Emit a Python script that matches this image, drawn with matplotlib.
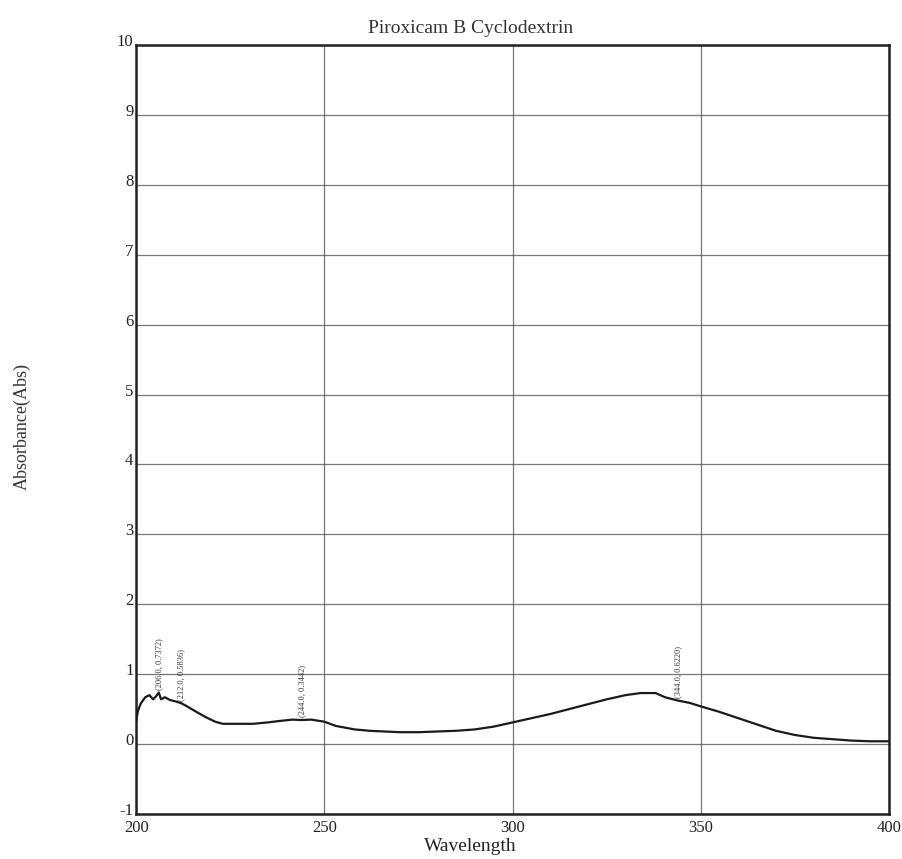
import matplotlib

matplotlib.use("Agg")

import matplotlib.pyplot as plt
import matplotlib.transforms as mtransforms

plt.rcParams["font.family"] = ["Liberation Serif", "DejaVu Serif"]

# UV spectrum, wavelength (nm) vs absorbance
wavelength = [
    200.0, 200.5, 201.2, 202.4, 203.5, 204.5, 205.2, 206.0, 206.6, 207.6,
    209.0, 210.5, 212.0, 213.5, 215.7, 218.3, 221.0, 223.0, 227.0, 231.0,
    235.0, 238.0, 241.5, 244.0, 246.5, 250.0, 253.0, 258.0, 262.0, 266.0,
    270.0, 275.0, 280.0, 285.0, 290.0, 295.0, 300.0, 305.0, 310.0, 315.0,
    320.0, 325.0, 330.0, 334.0, 338.0, 340.5, 344.0, 347.0, 350.0, 355.0,
    360.0, 365.0, 370.0, 375.0, 380.0, 385.0, 390.0, 395.0, 400.0,
]
absorbance = [
    0.34, 0.48, 0.58, 0.67, 0.70, 0.64, 0.68, 0.7372, 0.64, 0.67,
    0.63, 0.61, 0.5836, 0.54, 0.47, 0.39, 0.32, 0.29, 0.29, 0.29,
    0.31, 0.33, 0.35, 0.3442, 0.35, 0.32, 0.26, 0.21, 0.19, 0.18,
    0.17, 0.17, 0.18, 0.19, 0.21, 0.25, 0.31, 0.37, 0.43, 0.50,
    0.57, 0.64, 0.70, 0.73, 0.73, 0.67, 0.622, 0.59, 0.54, 0.46,
    0.37, 0.28, 0.19, 0.13, 0.09, 0.07, 0.05, 0.04, 0.04,
]

# picked peaks
peak_wl = [206.0, 212.0, 244.0, 344.0]
peak_abs = [0.7372, 0.5836, 0.3442, 0.6220]

x_ticks = [200, 250, 300, 350, 400]
y_ticks = list(range(-1, 11))

fig = plt.figure(figsize=(9.02, 8.59), dpi=100)
ax = fig.add_axes([0.151, 0.0524, 0.8345, 0.8952])

ax.plot(wavelength, absorbance, color="#1a1a1a", lw=1.6, zorder=3)

for wl, ab in zip(peak_wl, peak_abs):
    ax.annotate(
        f"({wl:.1f}, {ab:.4f})",
        xy=(wl, ab),
        xytext=(0, 2),
        textcoords="offset points",
        rotation=90,
        ha="center",
        va="bottom",
        fontsize=6,
        color="#333333",
    )

ax.set_xlim(200, 400)
ax.set_ylim(-1, 10)
ax.set_xticks(x_ticks)
ax.set_yticks(y_ticks)
ax.set_xticklabels([str(t) for t in x_ticks], fontsize=12)
ax.set_yticklabels([str(t) for t in y_ticks], fontsize=12)
ax.tick_params(axis="both", length=0, colors="#222222")
ax.tick_params(axis="x", pad=4)
ax.tick_params(axis="y", pad=2)

# y labels sit a little above their grid lines
shift = mtransforms.ScaledTranslation(0, 5 / 100, fig.dpi_scale_trans)
for lbl in ax.get_yticklabels():
    lbl.set_transform(lbl.get_transform() + shift)

ax.grid(True, color="#555555", lw=0.9, alpha=0.8)
ax.set_axisbelow(True)
for spine in ax.spines.values():
    spine.set_linewidth(1.8)
    spine.set_color("#222222")

ax.text(0.444, 1.022, "Piroxicam B Cyclodextrin", transform=ax.transAxes,
        ha="center", va="center", fontsize=14, color="#333333")
ax.text(0.444, -0.042, "Wavelength", transform=ax.transAxes,
        ha="center", va="center", fontsize=14, color="#222222")
fig.text(0.025, 0.503, "Absorbance(Abs)", rotation=90, ha="center", va="center",
         fontsize=13, color="#333333")

fig.savefig("out.png", dpi=100)
